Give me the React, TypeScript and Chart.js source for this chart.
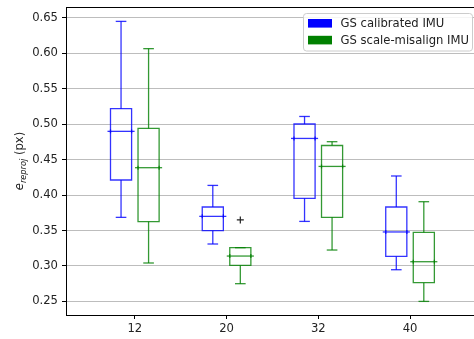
import React, { useEffect, useRef } from "react";
import { Chart, registerables } from "chart.js";
Chart.register(...registerables);

const categories = ["12", "20", "32", "40"];
const seriesNames = ["GS calibrated IMU", "GS scale-misalign IMU"];
const seriesColors = ["#0000ff", "#008000"];
const seriesLineColors = ["rgba(0,0,255,0.8)", "rgba(0,128,0,0.8)"];

const calibMin = [0.3686, 0.331, 0.3629, 0.2947];
const calibQ1 = [0.4213, 0.3498, 0.3954, 0.3135];
const calibMed = [0.49, 0.37, 0.48, 0.348];
const calibQ3 = [0.522, 0.3832, 0.5004, 0.3832];
const calibMax = [0.6452, 0.4137, 0.511, 0.427];
const calibOutliers: number[][] = [[], [], [], []];

const misMin = [0.3042, 0.275, 0.3225, 0.25];
const misQ1 = [0.3625, 0.3008, 0.3686, 0.2764];
const misMed = [0.4387, 0.314, 0.4405, 0.306];
const misQ3 = [0.4942, 0.3258, 0.47, 0.3474];
const misMax = [0.6067, 0.3258, 0.4754, 0.3907];
const misOutliers: number[][] = [[], [0.365], [], []];

const yTicks = [0.25, 0.3, 0.35, 0.4, 0.45, 0.5, 0.55, 0.6, 0.65];

const series = [
  { min: calibMin, q1: calibQ1, med: calibMed, q3: calibQ3, max: calibMax, out: calibOutliers },
  { min: misMin, q1: misQ1, med: misMed, q3: misQ3, max: misMax, out: misOutliers },
];
const offsets = [-0.15, 0.15];
const boxHalf = 0.115;
const capHalf = 0.058;

const seg = (ctx: any, x1: number, y1: number, x2: number, y2: number) => {
  ctx.beginPath();
  ctx.moveTo(x1, y1);
  ctx.lineTo(x2, y2);
  ctx.stroke();
};

const boxPlugin = {
  id: "boxes",
  afterDatasetsDraw(chart: any) {
    const ctx = chart.ctx;
    const xs = chart.scales.x;
    const ys = chart.scales.y;
    ctx.save();
    ctx.lineWidth = 1.3;
    ctx.lineCap = "butt";
    series.forEach((s, si) => {
      ctx.strokeStyle = seriesLineColors[si];
      categories.forEach((_, i) => {
        const xv = i + 1 + offsets[si];
        const cx = xs.getPixelForValue(xv);
        const hw = xs.getPixelForValue(xv + boxHalf) - cx;
        const cw = xs.getPixelForValue(xv + capHalf) - cx;
        const yMin = ys.getPixelForValue(s.min[i]);
        const yQ1 = ys.getPixelForValue(s.q1[i]);
        const yMed = ys.getPixelForValue(s.med[i]);
        const yQ3 = ys.getPixelForValue(s.q3[i]);
        const yMax = ys.getPixelForValue(s.max[i]);
        ctx.beginPath();
        ctx.rect(cx - hw, yQ3, 2 * hw, yQ1 - yQ3);
        ctx.stroke();
        seg(ctx, cx, yQ1, cx, yMin);
        seg(ctx, cx - cw, yMin, cx + cw, yMin);
        if (yQ3 - yMax > 0.5) {
          seg(ctx, cx, yQ3, cx, yMax);
        }
        seg(ctx, cx - cw, yMax, cx + cw, yMax);
        seg(ctx, cx - hw - 3, yMed, cx + hw + 3, yMed);
        seg(ctx, cx - hw, yMed - 2, cx - hw, yMed + 2);
        seg(ctx, cx + hw, yMed - 2, cx + hw, yMed + 2);
      });
    });
    ctx.restore();
  },
  afterDraw(chart: any) {
    const ctx = chart.ctx;
    const a = chart.chartArea;
    ctx.save();
    // top frame
    ctx.strokeStyle = "#000";
    ctx.lineWidth = 1;
    ctx.beginPath();
    ctx.moveTo(a.left, a.top + 0.5);
    ctx.lineTo(a.right, a.top + 0.5);
    ctx.stroke();

    // legend
    const lx = 303.5, ly = 13.5, lw = 169, lh = 37.5;
    ctx.beginPath();
    if (ctx.roundRect) ctx.roundRect(lx, ly, lw, lh, 3);
    else ctx.rect(lx, ly, lw, lh);
    ctx.fillStyle = "rgba(255,255,255,0.85)";
    ctx.fill();
    ctx.strokeStyle = "#cccccc";
    ctx.lineWidth = 1;
    ctx.stroke();
    ctx.font = "11.6px 'DejaVu Sans'";
    ctx.textBaseline = "middle";
    ctx.textAlign = "left";
    seriesNames.forEach((name, i) => {
      const cy = 23.3 + i * 16.8;
      ctx.fillStyle = seriesColors[i];
      ctx.fillRect(308, cy - 4.3, 24, 8.6);
      ctx.fillStyle = "#222";
      ctx.fillText(name, 340.5, cy + 0.5);
    });

    // y label
    ctx.translate(22.5, 161);
    ctx.rotate(-Math.PI / 2);
    const f1 = "italic 11.6px 'DejaVu Sans'";
    const f2 = "italic 8.2px 'DejaVu Sans'";
    const f3 = "11.6px 'DejaVu Sans'";
    ctx.font = f1;
    const w1 = ctx.measureText("e").width;
    ctx.font = f2;
    const w2 = ctx.measureText("reproj").width;
    ctx.font = f3;
    const w3 = ctx.measureText(" (px)").width;
    let x = -(w1 + w2 + w3) / 2;
    ctx.fillStyle = "#222";
    ctx.textBaseline = "alphabetic";
    ctx.font = f1;
    ctx.fillText("e", x, 0);
    x += w1;
    ctx.font = f2;
    ctx.fillText("reproj", x, 3);
    x += w2;
    ctx.font = f3;
    ctx.fillText(" (px)", x, 0);
    ctx.restore();
  },
};

export default function App() {
  const ref = useRef<HTMLCanvasElement | null>(null);
  useEffect(() => {
    if (!ref.current) return;
    Chart.defaults.font.family = "'DejaVu Sans'";
    Chart.defaults.font.size = 11.6;
    const outlierData: any[] = [];
    series.forEach((s, si) => {
      const pts: any[] = [];
      s.out.forEach((vals, i) => vals.forEach((v) => pts.push({ x: i + 1 + offsets[si], y: v })));
      outlierData.push(pts);
    });
    const chart = new Chart(ref.current, {
      type: "scatter",
      data: {
        datasets: outlierData.map((pts) => ({
          data: pts,
          pointStyle: "cross",
          pointRadius: 3.5,
          borderColor: "#222",
          borderWidth: 1.2,
          backgroundColor: "#222",
        })),
      },
      options: {
        animation: false,
        responsive: false,
        events: [],
        layout: { autoPadding: false, padding: { top: 7, left: 0, right: 0, bottom: 0 } },
        plugins: { legend: { display: false }, tooltip: { enabled: false } },
        scales: {
          x: {
            type: "linear",
            min: 0.25,
            max: 4.697,
            afterBuildTicks: (s: any) => {
              s.ticks = categories.map((_, i) => ({ value: i + 1 }));
            },
            afterFit: (s: any) => {
              s.height = 24;
              s.paddingLeft = 0;
              s.paddingRight = 0;
            },
            grid: { drawOnChartArea: false, drawTicks: true, tickLength: 4, tickColor: "#000" },
            border: { display: true, color: "#000", width: 1 },
            ticks: {
              color: "#222",
              padding: 3,
              maxRotation: 0,
              callback: (v: any) => categories[Math.round(v) - 1] ?? "",
            },
          },
          y: {
            type: "linear",
            min: 0.2308,
            max: 0.6655,
            afterBuildTicks: (s: any) => {
              s.ticks = yTicks.map((v) => ({ value: v }));
            },
            afterFit: (s: any) => {
              s.width = 66;
              s.paddingTop = 0;
              s.paddingBottom = 0;
            },
            grid: { color: "#bdbdbd", lineWidth: 1, drawTicks: true, tickLength: 4, tickColor: "#000" },
            border: { display: true, color: "#000", width: 1 },
            ticks: {
              color: "#222",
              padding: 4,
              callback: (v: any) => Number(v).toFixed(2),
            },
          },
        },
      },
      plugins: [boxPlugin],
    });
    return () => chart.destroy();
  }, []);
  return (
    <div style={{ position: "absolute", left: 0, top: 0, width: 474, height: 339, overflow: "hidden", background: "#fff" }}>
      <canvas ref={ref} width={474} height={339} style={{ display: "block", width: 474, height: 339 }} />
    </div>
  );
}
